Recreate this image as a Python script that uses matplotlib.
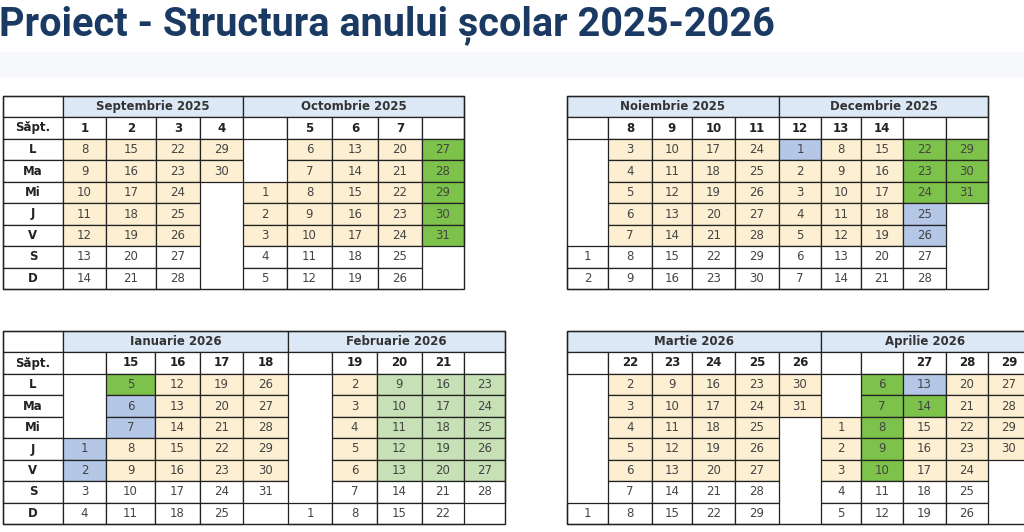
import matplotlib
matplotlib.use("Agg")
import matplotlib.pyplot as plt
from matplotlib.patches import Rectangle

title = "Proiect - Structura anului școlar 2025-2026"
day_names = ["L", "Ma", "Mi", "J", "V", "S", "D"]

# each month: (name, list of columns: (week label, [7 day values], colour codes))
sep = ("Septembrie 2025", [
    ("1", [8, 9, 10, 11, 12, 13, 14], "yyyyyww"),
    ("2", [15, 16, 17, 18, 19, 20, 21], "yyyyyww"),
    ("3", [22, 23, 24, 25, 26, 27, 28], "yyyyyww"),
    ("4", [29, 30, None, None, None, None, None], "yy-----"),
])
octo = ("Octombrie 2025", [
    ("", [None, None, 1, 2, 3, 4, 5], "--yyyww"),
    ("5", [6, 7, 8, 9, 10, 11, 12], "yyyyyww"),
    ("6", [13, 14, 15, 16, 17, 18, 19], "yyyyyww"),
    ("7", [20, 21, 22, 23, 24, 25, 26], "yyyyyww"),
    ("", [27, 28, 29, 30, 31, None, None], "ggggg--"),
])
nov = ("Noiembrie 2025", [
    ("", [None, None, None, None, None, 1, 2], "-----ww"),
    ("8", [3, 4, 5, 6, 7, 8, 9], "yyyyyww"),
    ("9", [10, 11, 12, 13, 14, 15, 16], "yyyyyww"),
    ("10", [17, 18, 19, 20, 21, 22, 23], "yyyyyww"),
    ("11", [24, 25, 26, 27, 28, 29, 30], "yyyyyww"),
])
dec = ("Decembrie 2025", [
    ("12", [1, 2, 3, 4, 5, 6, 7], "byyyyww"),
    ("13", [8, 9, 10, 11, 12, 13, 14], "yyyyyww"),
    ("14", [15, 16, 17, 18, 19, 20, 21], "yyyyyww"),
    ("", [22, 23, 24, 25, 26, 27, 28], "gggbbww"),
    ("", [29, 30, 31, None, None, None, None], "ggg----"),
])
jan = ("Ianuarie 2026", [
    ("", [None, None, None, 1, 2, 3, 4], "---bbww"),
    ("15", [5, 6, 7, 8, 9, 10, 11], "gbbyyww"),
    ("16", [12, 13, 14, 15, 16, 17, 18], "yyyyyww"),
    ("17", [19, 20, 21, 22, 23, 24, 25], "yyyyyww"),
    ("18", [26, 27, 28, 29, 30, 31, None], "yyyyyw-"),
])
feb = ("Februarie 2026", [
    ("", [None, None, None, None, None, None, 1], "------w"),
    ("19", [2, 3, 4, 5, 6, 7, 8], "yyyyyww"),
    ("20", [9, 10, 11, 12, 13, 14, 15], "lllllww"),
    ("21", [16, 17, 18, 19, 20, 21, 22], "lllllww"),
    ("", [23, 24, 25, 26, 27, 28, None], "lllllw-"),
])
mar = ("Martie 2026", [
    ("", [None, None, None, None, None, None, 1], "------w"),
    ("22", [2, 3, 4, 5, 6, 7, 8], "yyyyyww"),
    ("23", [9, 10, 11, 12, 13, 14, 15], "yyyyyww"),
    ("24", [16, 17, 18, 19, 20, 21, 22], "yyyyyww"),
    ("25", [23, 24, 25, 26, 27, 28, 29], "yyyyyww"),
    ("26", [30, 31, None, None, None, None, None], "yy-----"),
])
apr = ("Aprilie 2026", [
    ("", [None, None, 1, 2, 3, 4, 5], "--yyyww"),
    ("", [6, 7, 8, 9, 10, 11, 12], "gggggww"),
    ("27", [13, 14, 15, 16, 17, 18, 19], "bgyyyww"),
    ("28", [20, 21, 22, 23, 24, 25, 26], "yyyyyww"),
    ("29", [27, 28, 29, 30, None, None, None], "yyyy---"),
])

colors = {"y": "#fdf0d2", "g": "#7dc24b", "l": "#c7e0b5", "b": "#b4c7e7", "w": "#ffffff"}
header_fill = "#dce8f5"
line = "#222222"
txt = "#444444"

fig = plt.figure(figsize=(10.24, 5.32), dpi=100)
ax = fig.add_axes([0, 0, 1, 1])
ax.set_xlim(0, 1024)
ax.set_ylim(532, 0)
ax.axis("off")

ax.add_patch(Rectangle((0, 52), 1024, 24, color="#f6f8fb", zorder=0))
ax.text(-1, 25, title, fontsize=28.5, fontweight="bold", color="#1b3a63",
        va="center", ha="left", family="Roboto")


def rect(x0, y0, x1, y1, fc, edge=True):
    ax.add_patch(Rectangle((x0, y0), x1 - x0, y1 - y0, facecolor=fc,
                           edgecolor=line if edge else "none", lw=0.9, zorder=2))


def table(left_label, xs_label, months, ytop):
    yh = [ytop, ytop + 21, ytop + 43]
    rh = 150 / 7.0
    rows = [yh[2] + i * rh for i in range(8)]
    x_lab0, x_lab1 = xs_label
    if left_label:
        rect(x_lab0, yh[0], x_lab1, yh[1], "white")
        rect(x_lab0, yh[1], x_lab1, yh[2], "white")
        ax.text((x_lab0 + x_lab1) / 2, (yh[1] + yh[2]) / 2, "Săpt.", ha="center",
                va="center", fontsize=8.5, fontweight="bold", color="#222")
        for i, d in enumerate(day_names):
            rect(x_lab0, rows[i], x_lab1, rows[i + 1], "white")
            ax.text((x_lab0 + x_lab1) / 2, (rows[i] + rows[i + 1]) / 2, d,
                    ha="center", va="center", fontsize=8.5, fontweight="bold", color="#222")
    for (name, cols, xs) in months:
        x0 = xs[0]
        rect(x0, yh[0], xs[-1], yh[1], header_fill)
        ax.text((x0 + xs[-1]) / 2, (yh[0] + yh[1]) / 2, name, ha="center", va="center",
                fontsize=8.5, fontweight="bold", color="#333")
        for j, (wk, vals, cc) in enumerate(cols):
            a, b = xs[j], xs[j + 1]
            rect(a, yh[1], b, yh[2], "white")
            if wk:
                ax.text((a + b) / 2, (yh[1] + yh[2]) / 2, wk, ha="center", va="center",
                        fontsize=8.5, fontweight="bold", color="#222")
            for i, (v, c) in enumerate(zip(vals, cc)):
                if v is None:
                    continue
                rect(a, rows[i], b, rows[i + 1], colors[c])
                ax.text((a + b) / 2, (rows[i] + rows[i + 1]) / 2, str(v), ha="center",
                        va="center", fontsize=8.5, color=txt)
    x_end = months[-1][2][-1]
    ax.add_patch(Rectangle((x_lab0, yh[0]), x_end - x_lab0, rows[-1] - yh[0],
                           fill=False, edgecolor=line, lw=1.0, zorder=3))


table(True, (3, 63), [
    (sep[0], sep[1], [63, 106, 156, 200, 243]),
    (octo[0], octo[1], [243, 287, 332, 378, 422, 464]),
], 96)
table(False, (567, 608), [
    (nov[0], nov[1], [567, 608, 652, 692, 735, 779]),
    (dec[0], dec[1], [779, 821, 861, 903, 946, 988]),
], 96)
table(True, (3, 63), [
    (jan[0], jan[1], [63, 106, 155, 200, 243, 288]),
    (feb[0], feb[1], [288, 332, 377, 422, 464, 505]),
], 331)
table(False, (567, 608), [
    (mar[0], mar[1], [567, 608, 652, 692, 735, 779, 821]),
    (apr[0], apr[1], [821, 861, 903, 946, 988, 1030]),
], 331)

fig.savefig("out.png", dpi=100)
